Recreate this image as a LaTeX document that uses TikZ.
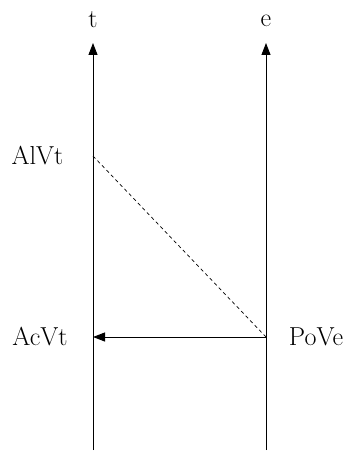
\documentclass[tikz,border=0pt]{standalone}
\usepackage{fontspec}
\usetikzlibrary{arrows.meta,positioning}
\begin{document}
\begin{tikzpicture}[
  x=1pt, y=-1pt,
  font=\fontsize{26}{30}\selectfont, >={Triangle[length=12pt, width=9pt]},
  lbl/.style={inner sep=0pt, anchor=center},
  axis/.style={->, line width=1pt},
  msg/.style={->, line width=1pt},
  hint/.style={dashed, dash pattern=on 3.5pt off 3pt, line width=0.7pt}
]
\useasboundingbox (0,0) rectangle (349,452);
% ---------------- time lines
\coordinate (tbot) at (93,450);
\coordinate (ttop) at (93,43);
\coordinate (ebot) at (266,450);
\coordinate (etop) at (266,43);
\node[lbl] (t) at (93,20) {t};
\node[lbl] (e) at (266,21) {e};
\draw[axis] (tbot) -- (ttop);
\draw[axis] (ebot) -- (etop);
% ---------------- events
\coordinate (alvtpt) at (93,156);
\coordinate (acvtpt) at (93,337);
\coordinate (povept) at (266,337);
\node[lbl] (alvt) at (37.5,156) {AlVt};
\node[lbl] (acvt) at (40,337) {AcVt};
\node[lbl] (pove) at (316,337) {PoVe};
% ---------------- connectors
\draw[hint] (alvtpt) -- (povept);
\draw[msg] (povept) -- (acvtpt);
\end{tikzpicture}
\end{document}
